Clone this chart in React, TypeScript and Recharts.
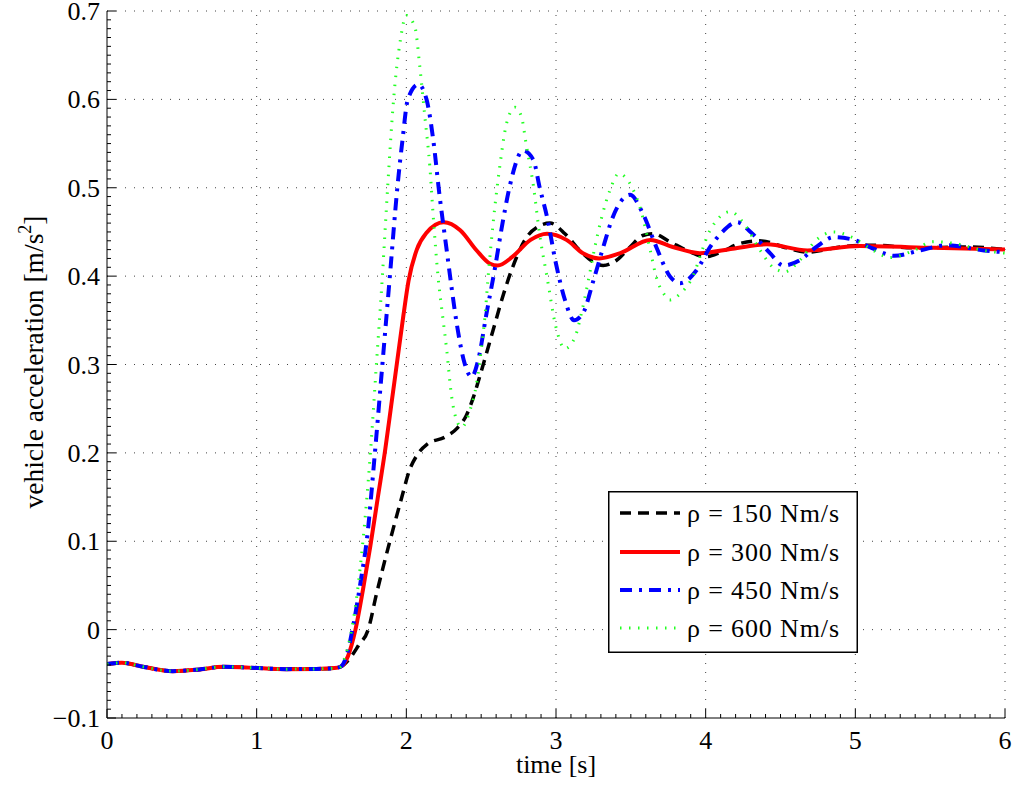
import { Legend, Line, LineChart, ReferenceLine, XAxis, YAxis } from 'recharts'

// shared pre-launch segment (all four curves overlap here)
const tStart = [0, 0.1, 0.24, 0.44, 0.62, 0.78, 0.95, 1.2, 1.4, 1.52, 1.56]
const vStart = [-0.039, -0.0375, -0.042, -0.047, -0.045, -0.042, -0.043, -0.0447, -0.0445, -0.0435, -0.042]

const tRho150 = [1.62, 1.68, 1.745, 1.8, 1.89, 1.97, 2.02, 2.07, 2.14, 2.26, 2.34, 2.4, 2.45, 2.5, 2.58, 2.65, 2.71, 2.8, 2.88, 2.96, 3.06, 3.16, 3.25, 3.315, 3.405, 3.495, 3.58, 3.65, 3.76, 3.875, 4.0, 4.1, 4.23, 4.36, 4.54, 4.68, 4.9, 5.12, 5.4, 5.75, 6.0]
const vRho150 = [-0.033, -0.018, 0.0, 0.04, 0.1, 0.15, 0.18, 0.197, 0.21, 0.218, 0.228, 0.242, 0.264, 0.292, 0.339, 0.38, 0.41, 0.443, 0.456, 0.46, 0.448, 0.429, 0.416, 0.412, 0.418, 0.433, 0.446, 0.448, 0.439, 0.429, 0.422, 0.427, 0.437, 0.44, 0.432, 0.427, 0.433, 0.435, 0.432, 0.433, 0.43]

const tRho300 = [1.61, 1.66, 1.71, 1.76, 1.81, 1.86, 1.9, 1.94, 1.98, 2.015, 2.07, 2.135, 2.25, 2.36, 2.47, 2.56, 2.61, 2.71, 2.83, 2.94, 3.07, 3.18, 3.29, 3.43, 3.63, 3.78, 3.96, 4.18, 4.41, 4.68, 5.03, 5.52, 6.0]
const vRho300 = [-0.03, 0.0, 0.045, 0.095, 0.15, 0.205, 0.255, 0.305, 0.355, 0.395, 0.43, 0.449, 0.461, 0.452, 0.429, 0.414, 0.412, 0.422, 0.441, 0.448, 0.441, 0.426, 0.42, 0.426, 0.441, 0.433, 0.426, 0.431, 0.436, 0.429, 0.434, 0.432, 0.43]

const tRho450 = [1.6, 1.64, 1.7, 1.735, 1.79, 1.84, 1.89, 1.94, 1.975, 2.01, 2.08, 2.135, 2.18, 2.22, 2.27, 2.3, 2.336, 2.39, 2.436, 2.48, 2.536, 2.59, 2.646, 2.69, 2.78, 2.85, 2.89, 2.94, 3.0, 3.06, 3.12, 3.18, 3.25, 3.316, 3.38, 3.495, 3.58, 3.67, 3.76, 3.83, 3.94, 4.03, 4.1, 4.21, 4.3, 4.43, 4.52, 4.63, 4.74, 4.855, 4.99, 5.12, 5.26, 5.43, 5.61, 5.86, 6.0]
const vRho450 = [-0.03, 0.0, 0.06, 0.1, 0.2, 0.3, 0.4, 0.5, 0.555, 0.6, 0.617, 0.6, 0.554, 0.494, 0.429, 0.39, 0.347, 0.301, 0.286, 0.305, 0.358, 0.407, 0.463, 0.501, 0.542, 0.531, 0.501, 0.467, 0.414, 0.373, 0.35, 0.358, 0.395, 0.433, 0.467, 0.492, 0.471, 0.433, 0.4, 0.392, 0.407, 0.433, 0.448, 0.461, 0.45, 0.426, 0.412, 0.418, 0.433, 0.444, 0.441, 0.431, 0.423, 0.429, 0.435, 0.429, 0.427]

const tRho600 = [1.595, 1.635, 1.71, 1.76, 1.8, 1.84, 1.875, 1.915, 1.96, 2.0, 2.057, 2.09, 2.124, 2.157, 2.18, 2.21, 2.246, 2.27, 2.3, 2.336, 2.37, 2.425, 2.47, 2.5, 2.525, 2.547, 2.58, 2.625, 2.67, 2.726, 2.77, 2.8, 2.85, 2.89, 2.94, 3.0, 3.06, 3.127, 3.17, 3.216, 3.26, 3.306, 3.36, 3.42, 3.506, 3.573, 3.63, 3.67, 3.72, 3.76, 3.83, 3.9, 4.03, 4.164, 4.25, 4.365, 4.45, 4.53, 4.63, 4.74, 4.855, 4.99, 5.12, 5.23, 5.39, 5.52, 5.66, 5.86, 6.0]
const vRho600 = [-0.028, 0.0, 0.1, 0.2, 0.3, 0.4, 0.5, 0.6, 0.667, 0.695, 0.682, 0.637, 0.58, 0.524, 0.467, 0.403, 0.35, 0.316, 0.267, 0.237, 0.229, 0.248, 0.279, 0.316, 0.354, 0.4, 0.46, 0.525, 0.573, 0.591, 0.58, 0.55, 0.501, 0.448, 0.399, 0.342, 0.318, 0.331, 0.358, 0.395, 0.433, 0.467, 0.497, 0.516, 0.501, 0.471, 0.429, 0.399, 0.38, 0.373, 0.38, 0.395, 0.452, 0.473, 0.461, 0.429, 0.41, 0.405, 0.418, 0.441, 0.45, 0.443, 0.429, 0.421, 0.429, 0.439, 0.437, 0.429, 0.426]

const xMajor = [0, 1, 2, 3, 4, 5, 6]
const yMajor = [-0.1, 0, 0.1, 0.2, 0.3, 0.4, 0.5, 0.6, 0.7]
const xMinor = Array.from({ length: 61 }, (_, i) => i / 10)
const yMinor = Array.from({ length: 81 }, (_, i) => (i - 10) / 100)

const seriesNames = ['ρ = 150 Nm/s', 'ρ = 300 Nm/s', 'ρ = 450 Nm/s', 'ρ = 600 Nm/s']

const toPoints = (t: number[], v: number[]) => {
  const tt = [...tStart, ...t]
  const vv = [...vStart, ...v]
  return tt.map((x, i) => ({ t: x, v: vv[i] }))
}

const W = 1013
const H = 785
const AX_X = 107
const AX_Y = 718
const FONT = '"Liberation Serif", "Times New Roman", serif'

const styles = [
  { color: '#000000', width: 3.5, dash: '11 7' },
  { color: '#ff0000', width: 4, dash: undefined },
  { color: '#0000ff', width: 4, dash: '12 7 3 7' },
  { color: '#22ff22', width: 3, dash: '1.5 7.5' },
]

const fmtY = (v: number) => (Math.abs(v) < 1e-9 ? '0' : v < 0 ? '\u2212' + Math.abs(v).toFixed(1) : v.toFixed(1))

function YTick(props: any) {
  const v = props.payload.value
  const y = props.y
  const major = yMajor.some((m) => Math.abs(m - v) < 1e-6)
  return (
    <g>
      <line x1={AX_X} x2={AX_X + (major ? 9 : 4)} y1={y} y2={y} stroke="#000" strokeWidth={1} />
      {major && (
        <text x={AX_X - 7} y={y + 9} textAnchor="end" fontSize={26} fontFamily={FONT} fill="#000">
          {fmtY(v)}
        </text>
      )}
    </g>
  )
}

function XTick(props: any) {
  const v = props.payload.value
  const x = props.x
  const major = xMajor.some((m) => Math.abs(m - v) < 1e-6)
  return (
    <g>
      <line x1={x} x2={x} y1={AX_Y} y2={AX_Y - (major ? 9 : 4)} stroke="#000" strokeWidth={1} />
      {major && (
        <text x={x} y={AX_Y + 31} textAnchor="middle" fontSize={26} fontFamily={FONT} fill="#000">
          {v}
        </text>
      )}
    </g>
  )
}

function LegendBox() {
  const rows = [22, 61, 99, 137]
  return (
    <svg width={250} height={162} style={{ display: 'block' }}>
      <rect x={0.75} y={0.75} width={248.5} height={160.5} fill="#fff" stroke="#000" strokeWidth={1.5} />
      {seriesNames.map((name, i) => (
        <g key={name}>
          <line
            x1={12}
            x2={72}
            y1={rows[i]}
            y2={rows[i]}
            stroke={styles[i].color}
            strokeWidth={styles[i].width}
            strokeDasharray={styles[i].dash}
          />
          <text
            x={79}
            y={rows[i] + 9}
            fontSize={26}
            fontFamily={FONT}
            fill="#000"
            textLength={152}
            lengthAdjust="spacing"
          >
            {name}
          </text>
        </g>
      ))}
    </svg>
  )
}

const allSeries = [
  toPoints(tRho150, vRho150),
  toPoints(tRho300, vRho300),
  toPoints(tRho450, vRho450),
  toPoints(tRho600, vRho600),
]

export default function App() {
  return (
    <div style={{ position: 'relative', width: W, height: H }}>
      <style>{'body{margin:0}'}</style>
      <LineChart width={W} height={H} margin={{ top: 11, right: 8, bottom: 0, left: 0 }}>
        <XAxis
          dataKey="t"
          type="number"
          domain={[0, 6]}
          ticks={xMinor}
          interval={0}
          height={67}
          tickLine={false}
          axisLine={{ stroke: '#000', strokeWidth: 1 }}
          tick={<XTick />}
          allowDataOverflow
        />
        <YAxis
          type="number"
          domain={[-0.1, 0.7]}
          ticks={yMinor}
          interval={0}
          width={107}
          tickLine={false}
          axisLine={{ stroke: '#000', strokeWidth: 1 }}
          tick={<YTick />}
          allowDataOverflow
        />
        {xMajor.slice(1).map((x) => (
          <ReferenceLine key={'x' + x} x={x} stroke="#444" strokeDasharray="1 8" strokeWidth={1} />
        ))}
        {yMajor.slice(1).map((y) => (
          <ReferenceLine key={'y' + y} y={y} stroke="#444" strokeDasharray="1 8" strokeWidth={1} />
        ))}
        {allSeries.map((data, i) => (
          <Line
            key={seriesNames[i]}
            data={data}
            dataKey="v"
            name={seriesNames[i]}
            type="monotone"
            stroke={styles[i].color}
            strokeWidth={styles[i].width}
            strokeDasharray={styles[i].dash}
            strokeLinecap="butt"
            dot={false}
            activeDot={false}
            isAnimationActive={false}
          />
        ))}
        <Legend
          layout="vertical"
          align="center"
          verticalAlign="middle"
          content={<LegendBox />}
          wrapperStyle={{ position: 'absolute', left: 608, top: 491, width: 250, height: 162 }}
        />
        <text x={556} y={773} textAnchor="middle" fontSize={26} fontFamily={FONT} fill="#000">
          time [s]
        </text>
        <text
          x={37}
          y={362}
          transform="rotate(-90 37 362)"
          textAnchor="middle"
          dominantBaseline="middle"
          fontSize={27.5}
          fontFamily={FONT}
          fill="#000"
        >
          vehicle acceleration [m/s
          <tspan fontSize={18} dy={-10}>2</tspan>
          <tspan dy={10}>]</tspan>
        </text>
      </LineChart>
    </div>
  )
}
